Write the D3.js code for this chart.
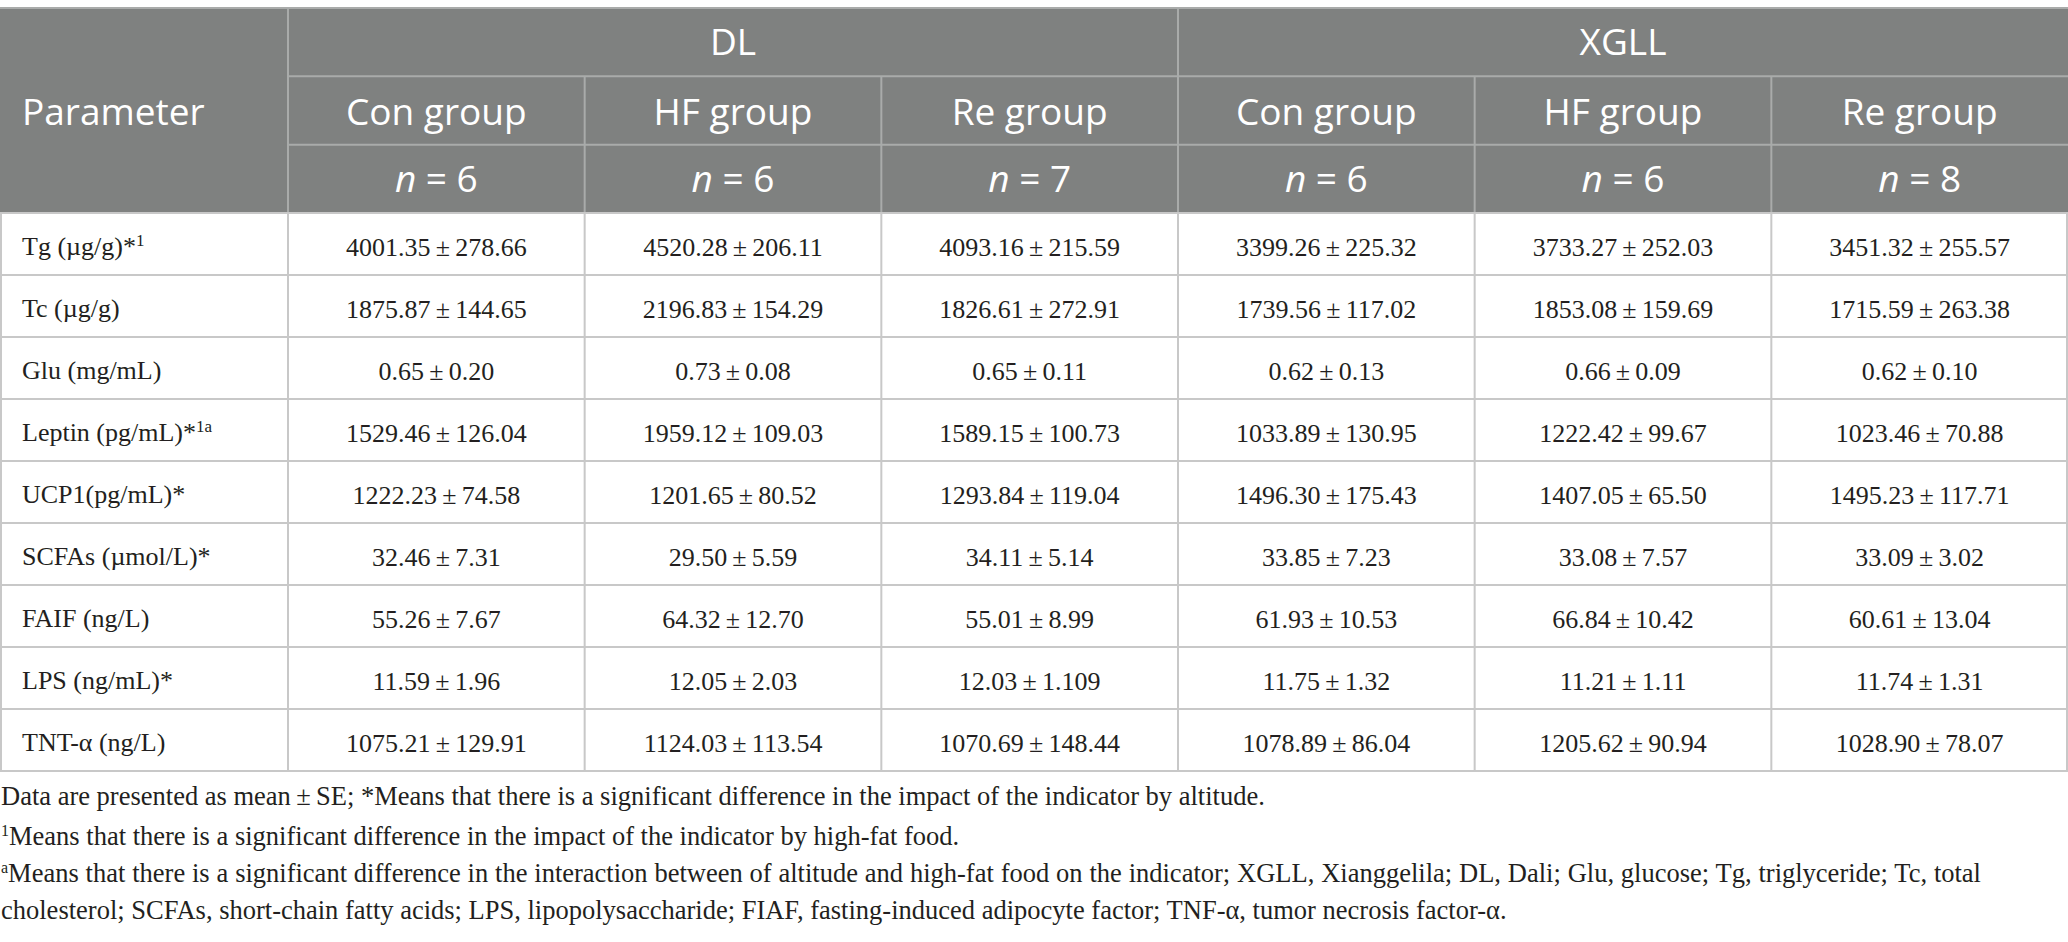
<!DOCTYPE html>
<html>
<head>
<meta charset="utf-8">
<script src="https://cdn.jsdelivr.net/npm/d3@7"></script>
<style>
	body { margin: 0; background: #fff; }
</style>
</head>
<body>
<div id="wrapper"></div>
<script>
// Table: metabolic parameters by altitude (DL, XGLL) and diet group

const sites = ["DL", "XGLL"]
const groups = ["Con group", "HF group", "Re group"]
const sampleSizes = [6, 6, 7, 6, 6, 8]

const parameters = ["Tg (µg/g)*", "Tc (µg/g)", "Glu (mg/mL)", "Leptin (pg/mL)*",
	"UCP1(pg/mL)*", "SCFAs (µmol/L)*", "FAIF (ng/L)", "LPS (ng/mL)*", "TNT-α (ng/L)"]
const paramSup = ["1", "", "", "1a", "", "", "", "", ""]

// mean per parameter, columns: DL Con, DL HF, DL Re, XGLL Con, XGLL HF, XGLL Re
const means = [
	["4001.35", "4520.28", "4093.16", "3399.26", "3733.27", "3451.32"],
	["1875.87", "2196.83", "1826.61", "1739.56", "1853.08", "1715.59"],
	["0.65", "0.73", "0.65", "0.62", "0.66", "0.62"],
	["1529.46", "1959.12", "1589.15", "1033.89", "1222.42", "1023.46"],
	["1222.23", "1201.65", "1293.84", "1496.30", "1407.05", "1495.23"],
	["32.46", "29.50", "34.11", "33.85", "33.08", "33.09"],
	["55.26", "64.32", "55.01", "61.93", "66.84", "60.61"],
	["11.59", "12.05", "12.03", "11.75", "11.21", "11.74"],
	["1075.21", "1124.03", "1070.69", "1078.89", "1205.62", "1028.90"]
]
const errors = [
	["278.66", "206.11", "215.59", "225.32", "252.03", "255.57"],
	["144.65", "154.29", "272.91", "117.02", "159.69", "263.38"],
	["0.20", "0.08", "0.11", "0.13", "0.09", "0.10"],
	["126.04", "109.03", "100.73", "130.95", "99.67", "70.88"],
	["74.58", "80.52", "119.04", "175.43", "65.50", "117.71"],
	["7.31", "5.59", "5.14", "7.23", "7.57", "3.02"],
	["7.67", "12.70", "8.99", "10.53", "10.42", "13.04"],
	["1.96", "2.03", "1.109", "1.32", "1.11", "1.31"],
	["129.91", "113.54", "148.44", "86.04", "90.94", "78.07"]
]

// footnote lines: [superscript, text, justified]
const notes = [
	["", "Data are presented as mean\u2009±\u2009SE; *Means that there is a significant difference in the impact of the indicator by altitude.", false],
	["1", "Means that there is a significant difference in the impact of the indicator by high-fat food.", false],
	["a", "Means that there is a significant difference in the interaction between of altitude and high-fat food on the indicator; XGLL, Xianggelila; DL, Dali; Glu, glucose; Tg, triglyceride; Tc, total", true],
	["", "cholesterol; SCFAs, short-chain fatty acids; LPS, lipopolysaccharide; FIAF, fasting-induced adipocyte factor; TNF-α, tumor necrosis factor-α.", false]
]

function drawTable() {
	const dimensions = {
		width: 2068,
		height: 942,
		tableTop: 8,
		headBottom: 213,
		tableBottom: 771,
		labelWidth: 288,
		noteWidth: 1980
	}

	const headFill = "#7f8180"
	const headLine = "#a9abaa"
	const bodyLine = "#c8c8c8"
	const ink = "#231f20"
	const serif = "'Liberation Serif', 'Times New Roman', serif"
	const sans = "'Open Sans', 'Noto Sans', sans-serif"

	const svg = d3.select("#wrapper")
		.append("svg")
		.attr("width", dimensions.width)
		.attr("height", dimensions.height)
		.attr("viewBox", [0, 0, dimensions.width, dimensions.height])

	// scales for columns and rows
	const colIndex = d3.range(sites.length * groups.length)
	const xScale = d3.scaleBand()
		.domain(colIndex)
		.range([dimensions.labelWidth, dimensions.width])
	const siteScale = d3.scaleBand()
		.domain(sites)
		.range([dimensions.labelWidth, dimensions.width])
	const headScale = d3.scaleBand()
		.domain([0, 1, 2])
		.range([dimensions.tableTop, dimensions.headBottom])
	const yScale = d3.scaleBand()
		.domain(parameters)
		.range([dimensions.headBottom, dimensions.tableBottom])

	// header background
	svg.append("rect")
		.attr("x", 0)
		.attr("y", dimensions.tableTop)
		.attr("width", dimensions.width)
		.attr("height", dimensions.headBottom - dimensions.tableTop)
		.attr("fill", headFill)

	const lines = svg.append("g").attr("stroke-width", 2)

	// header rules
	const headV = [dimensions.labelWidth, siteScale("XGLL")]
	lines.selectAll(".headV")
		.data(headV)
		.join("line")
		.attr("x1", d => d).attr("x2", d => d)
		.attr("y1", dimensions.tableTop).attr("y2", dimensions.headBottom)
		.attr("stroke", headLine)
	lines.selectAll(".headV2")
		.data(colIndex.filter(i => i % groups.length != 0))
		.join("line")
		.attr("x1", d => xScale(d)).attr("x2", d => xScale(d))
		.attr("y1", headScale(1)).attr("y2", dimensions.headBottom)
		.attr("stroke", headLine)
	lines.selectAll(".headH")
		.data([1, 2])
		.join("line")
		.attr("x1", dimensions.labelWidth).attr("x2", dimensions.width)
		.attr("y1", d => headScale(d)).attr("y2", d => headScale(d))
		.attr("stroke", headLine)
	lines.append("line")
		.attr("x1", 0).attr("x2", dimensions.width)
		.attr("y1", dimensions.tableTop).attr("y2", dimensions.tableTop)
		.attr("stroke", headLine)

	// body rules
	const rowEdges = parameters.map(p => yScale(p)).concat([dimensions.tableBottom])
	lines.selectAll(".bodyH")
		.data(rowEdges)
		.join("line")
		.attr("x1", 0).attr("x2", dimensions.width)
		.attr("y1", d => d).attr("y2", d => d)
		.attr("stroke", bodyLine)
	const colEdges = [1, dimensions.labelWidth]
		.concat(colIndex.slice(1).map(i => xScale(i)))
		.concat([dimensions.width - 1])
	lines.selectAll(".bodyV")
		.data(colEdges)
		.join("line")
		.attr("x1", d => d).attr("x2", d => d)
		.attr("y1", dimensions.headBottom).attr("y2", dimensions.tableBottom)
		.attr("stroke", bodyLine)

	// header text
	const head = svg.append("g")
		.attr("fill", "#fff")
		.style("font-family", sans)
		.style("font-size", "37px")

	head.append("text")
		.attr("x", 22)
		.attr("y", (dimensions.tableTop + dimensions.headBottom) / 2 + 14)
		.text("Parameter")

	head.selectAll(".site")
		.data(sites)
		.join("text")
		.attr("x", d => siteScale(d) + siteScale.bandwidth() / 2)
		.attr("y", headScale(0) + headScale.bandwidth() / 2 + 13)
		.attr("text-anchor", "middle")
		.text(d => d)

	head.selectAll(".group")
		.data(colIndex)
		.join("text")
		.attr("x", d => xScale(d) + xScale.bandwidth() / 2)
		.attr("y", headScale(1) + headScale.bandwidth() / 2 + 14)
		.attr("text-anchor", "middle")
		.text(d => groups[d % groups.length])

	const nText = head.selectAll(".n")
		.data(colIndex)
		.join("text")
		.attr("x", d => xScale(d) + xScale.bandwidth() / 2)
		.attr("y", headScale(2) + headScale.bandwidth() / 2 + 13)
		.attr("text-anchor", "middle")
	nText.append("tspan").style("font-style", "italic").text("n")
	nText.append("tspan").text(d => " = " + sampleSizes[d])

	// body text
	const body = svg.append("g")
		.attr("fill", ink)
		.style("font-family", serif)
		.style("font-size", "26px")

	const labels = body.selectAll(".label")
		.data(parameters)
		.join("text")
		.attr("x", 22)
		.attr("y", d => yScale(d) + yScale.bandwidth() / 2 + 11)
	labels.append("tspan").text(d => d)
	labels.append("tspan")
		.attr("dy", -9)
		.style("font-size", "17px")
		.text((d, i) => paramSup[i])

	const cells = parameters.flatMap((p, r) =>
		colIndex.map(c => ({ p, c, text: means[r][c] + "\u2009±\u2009" + errors[r][c] })))

	body.selectAll(".cell")
		.data(cells)
		.join("text")
		.attr("x", d => xScale(d.c) + xScale.bandwidth() / 2)
		.attr("y", d => yScale(d.p) + yScale.bandwidth() / 2 + 12)
		.attr("text-anchor", "middle")
		.text(d => d.text)

	// footnotes
	const noteY = [805, 845, 882, 919]
	const noteText = svg.append("g")
		.attr("fill", ink)
		.style("font-family", serif)
		.style("font-size", "26.5px")
		.selectAll("text")
		.data(notes)
		.join("text")
		.attr("x", 1)
		.attr("y", (d, i) => noteY[i])
	noteText.append("tspan")
		.attr("dy", -9)
		.style("font-size", "16px")
		.text(d => d[0])
	noteText.append("tspan")
		.attr("dy", d => d[0] ? 9 : 0)
		.text(d => d[1])

	// justify wrapped paragraph lines
	noteText.filter(d => d[2]).each(function(d) {
		const node = d3.select(this)
		const spaces = d[1].split(" ").length - 1
		const extra = (dimensions.noteWidth - this.getComputedTextLength()) / spaces
		if (extra > 0) node.style("word-spacing", `${extra}px`)
	})
}

drawTable()
</script>
</body>
</html>
